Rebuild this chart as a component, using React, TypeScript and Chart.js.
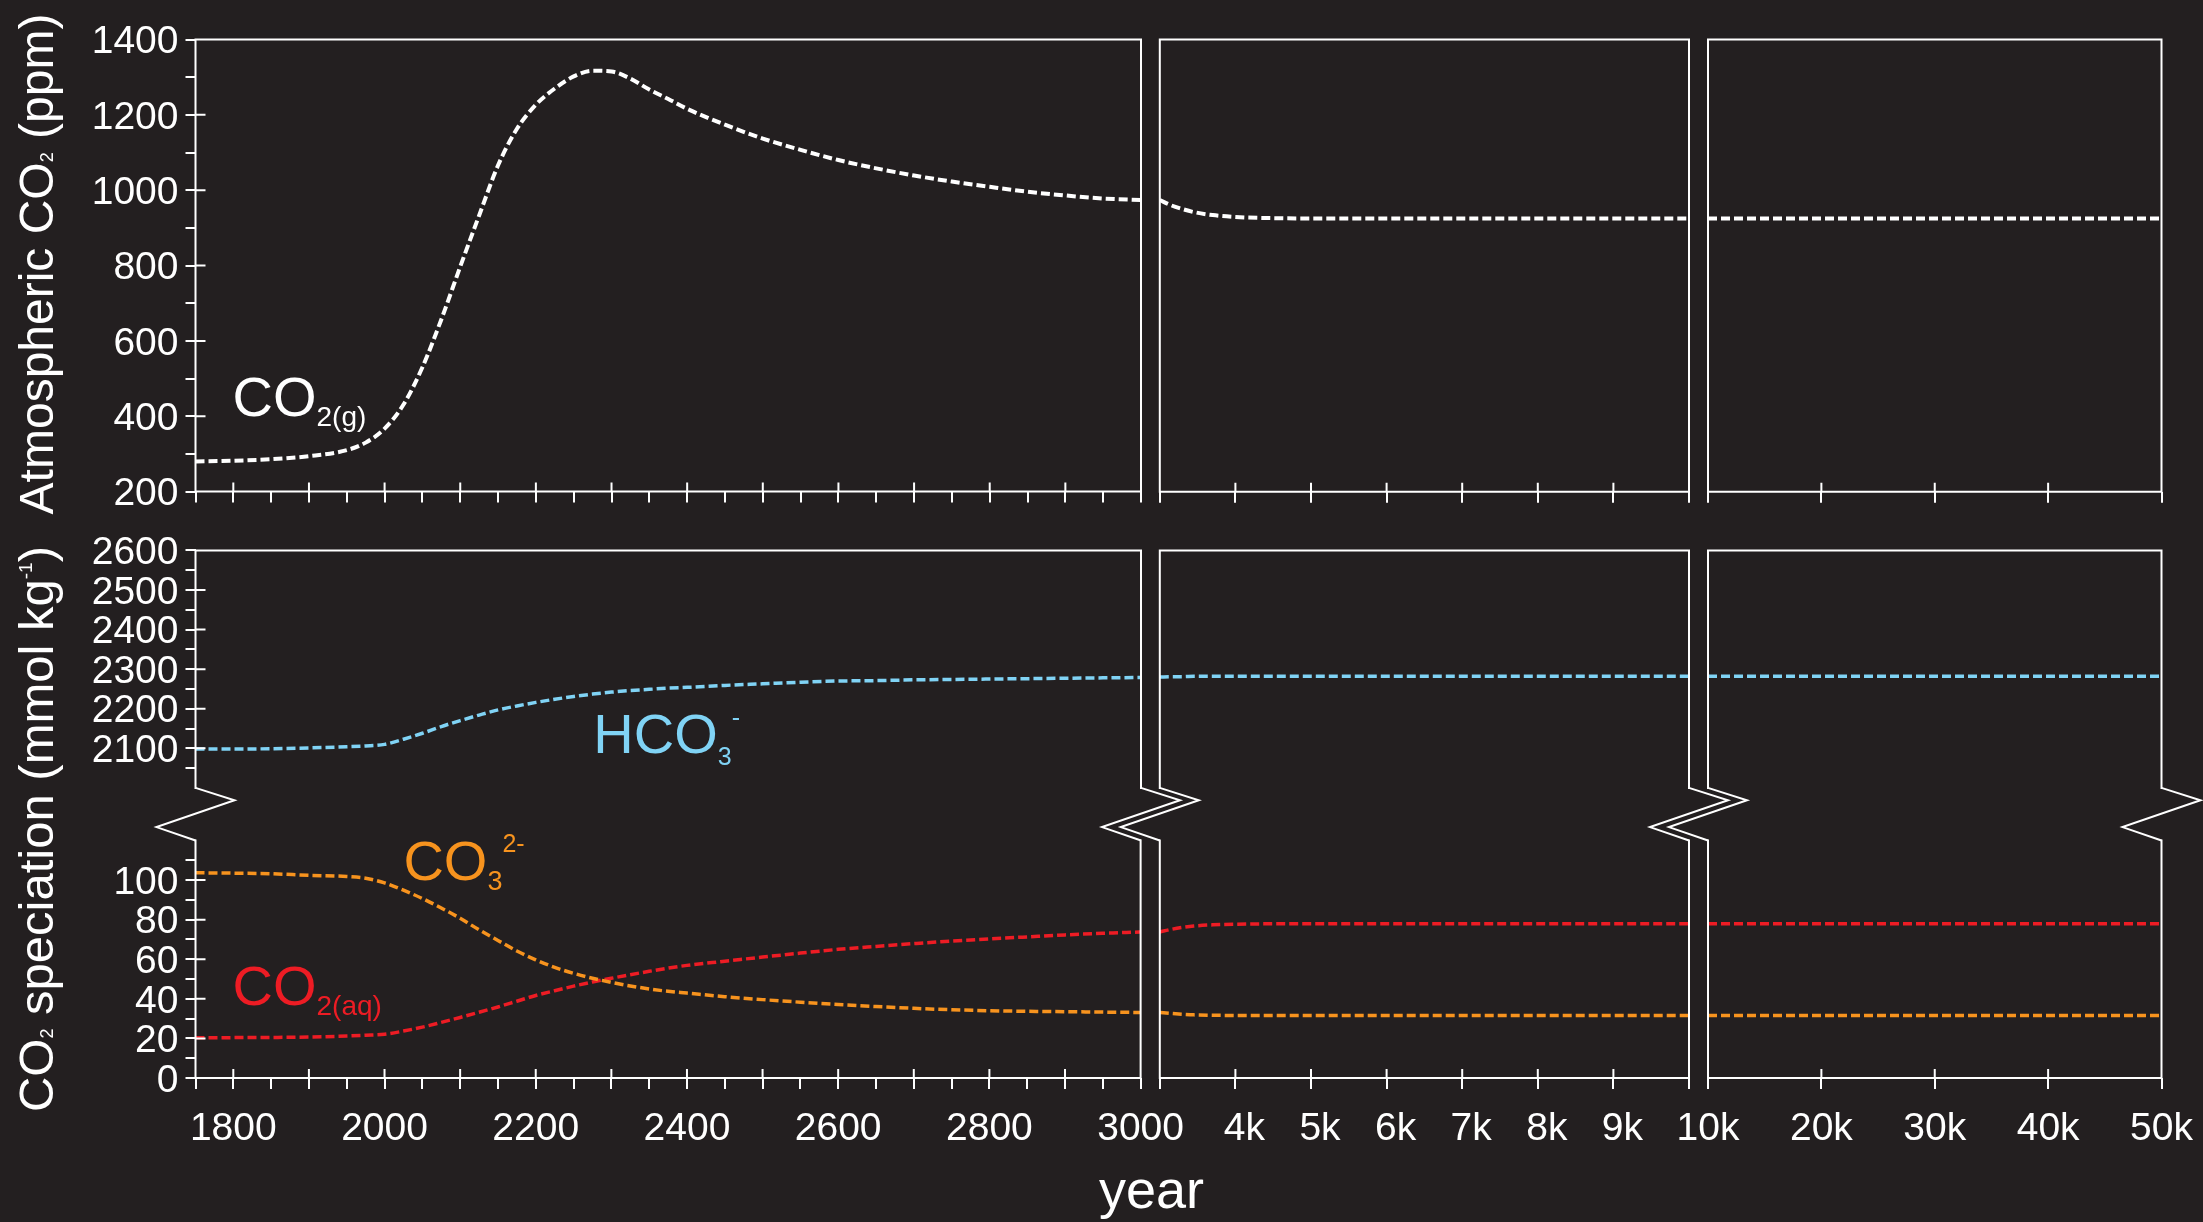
import React, { useEffect, useRef } from "react";
import { Chart, registerables } from "chart.js";

Chart.register(...registerables);

const W = 2203;
const H = 1222;
const BG = "#231f20";
const FONT = "'Liberation Sans', Arial, Helvetica, sans-serif";
const WHITE = "#ffffff";
const BLUE = "#80d3f5";
const ORANGE = "#f7931e";
const RED = "#ed1c24";

Chart.defaults.font.family = FONT;

// ---------- data: column A (1750 - 3000) ----------
const YEARS_A = [1750, 1800, 1850, 1900, 1950, 1975, 2000, 2025, 2050, 2075, 2100, 2125, 2150, 2175, 2200, 2225, 2250, 2275, 2300, 2325, 2350, 2375, 2400, 2450, 2500, 2550, 2600, 2650, 2700, 2750, 2800, 2850, 2900, 2950, 3000];
const CO2_GAS_A = [280, 282, 286, 294, 310, 330, 367, 431, 530, 657, 797, 933, 1066, 1163, 1227, 1270, 1302, 1317, 1315, 1296, 1267, 1242, 1216, 1174, 1137, 1107, 1080, 1058, 1039, 1023, 1009, 996, 986, 978, 974];
const HCO3_A = [2098, 2098, 2099, 2101, 2104, 2106, 2110, 2123, 2138, 2155, 2170, 2184, 2197, 2207, 2216, 2224, 2231, 2237, 2242, 2246, 2249, 2252, 2254, 2259, 2263, 2267, 2270, 2271, 2273, 2274, 2275, 2276, 2277, 2278, 2279];
const CO3_A = [103.7, 103.5, 103.2, 102.4, 101.8, 100.9, 98.6, 94.9, 90.7, 85.9, 80.7, 74.9, 69.5, 64.2, 59.7, 55.9, 52.9, 50.4, 48.3, 46.5, 45.0, 43.8, 42.9, 41.1, 39.6, 38.3, 37.1, 36.1, 35.2, 34.5, 34.0, 33.7, 33.5, 33.3, 33.1];
const CO2_AQ_A = [20.3, 20.4, 20.5, 20.7, 21.2, 21.6, 22.1, 23.7, 25.7, 28.1, 30.6, 33.2, 35.9, 38.8, 41.7, 44.1, 46.4, 48.5, 50.4, 52.2, 53.9, 55.5, 56.9, 59.0, 61.1, 63.1, 65.0, 66.5, 67.9, 69.2, 70.3, 71.3, 72.3, 73.1, 73.8];

// ---------- data: column B (3000 - 10000) ----------
const YEARS_B = [3000, 3150, 3300, 3450, 3700, 4000, 4500, 5000, 6000, 7000, 8000, 9000, 10000];
const CO2_GAS_B = [974, 960, 950, 942, 934, 929, 926, 925, 925, 925, 925, 925, 925];
const HCO3_B = [2280, 2281, 2281, 2282, 2282, 2282, 2282, 2282, 2282, 2282, 2282, 2282, 2282];
const CO3_B = [33.1, 32.6, 32.2, 31.9, 31.7, 31.6, 31.6, 31.6, 31.6, 31.6, 31.6, 31.6, 31.6];
const CO2_AQ_B = [73.8, 75.1, 76.1, 76.8, 77.4, 77.7, 77.9, 77.9, 77.9, 77.9, 77.9, 77.9, 77.9];

// ---------- data: column C (10000 - 50000) ----------
const YEARS_C = [10000, 20000, 30000, 40000, 50000];
const CO2_GAS_C = [925, 925, 925, 925, 925];
const HCO3_C = [2282, 2282, 2282, 2282, 2282];
const CO3_C = [31.6, 31.6, 31.6, 31.6, 31.6];
const CO2_AQ_C = [77.9, 77.9, 77.9, 77.9, 77.9];

// ---------- tick labels ----------
const X_LABEL_VALUES_A = [1800, 2000, 2200, 2400, 2600, 2800, 3000];
const X_LABELS_A = ["1800", "2000", "2200", "2400", "2600", "2800", "3000"];
const X_LABEL_VALUES_B = [4000, 5000, 6000, 7000, 8000, 9000];
const X_LABELS_B = ["4k", "5k", "6k", "7k", "8k", "9k"];
const X_LABEL_VALUES_C = [10000, 20000, 30000, 40000, 50000];
const X_LABELS_C = ["10k", "20k", "30k", "40k", "50k"];
const Y_LABEL_VALUES_TOP = [200, 400, 600, 800, 1000, 1200, 1400];
const Y_LABELS_TOP = ["200", "400", "600", "800", "1000", "1200", "1400"];
const Y_LABEL_VALUES_UP = [2100, 2200, 2300, 2400, 2500, 2600];
const Y_LABELS_UP = ["2100", "2200", "2300", "2400", "2500", "2600"];
const Y_LABEL_VALUES_LOW = [0, 20, 40, 60, 80, 100];
const Y_LABELS_LOW = ["0", "20", "40", "60", "80", "100"];

function steps(a: number, b: number, s: number): number[] {
  const out: number[] = [];
  for (let v = a; v <= b + 1e-9; v += s) out.push(v);
  return out;
}

// tick mark positions (outward) and major (crossing) ticks
const X_TICKS_A = steps(1750, 3000, 50);
const X_TICKS_B = steps(3000, 10000, 1000);
const X_TICKS_C = steps(10000, 50000, 10000);
const X_MAJOR_A = steps(1800, 2900, 100);
const X_MAJOR_B = steps(4000, 9000, 1000);
const X_MAJOR_C = [20000, 30000, 40000];
const Y_TICKS_TOP = steps(200, 1400, 100);
const Y_TICKS_UP = steps(2050, 2600, 50);
const Y_TICKS_LOW = steps(0, 110, 10);
const Y_MAJOR_TOP = [400, 600, 800, 1000, 1200];
const Y_MAJOR_UP = [2100, 2200, 2300, 2400, 2500];
const Y_MAJOR_LOW = [20, 40, 60, 80, 100];

const TICK_FONT = 39;

type Series = { x: number[]; y: number[]; color: string; width: number };

const COLS = [
  { l: 195.5, r: 1141, xMin: 1750, xMax: 3000, xTicks: X_TICKS_A, xLV: X_LABEL_VALUES_A, xL: X_LABELS_A, xMajor: X_MAJOR_A, xOff: 0, showY: true },
  { l: 1159.8, r: 1689, xMin: 3000, xMax: 10000, xTicks: X_TICKS_B, xLV: X_LABEL_VALUES_B, xL: X_LABELS_B, xMajor: X_MAJOR_B, xOff: 9, showY: false },
  { l: 1708, r: 2161.5, xMin: 10000, xMax: 50000, xTicks: X_TICKS_C, xLV: X_LABEL_VALUES_C, xL: X_LABELS_C, xMajor: X_MAJOR_C, xOff: 0, showY: false },
];

const GAS: Series[][] = [
  [{ x: YEARS_A, y: CO2_GAS_A, color: WHITE, width: 4 }],
  [{ x: YEARS_B, y: CO2_GAS_B, color: WHITE, width: 4 }],
  [{ x: YEARS_C, y: CO2_GAS_C, color: WHITE, width: 4 }],
];
const UPPER: Series[][] = [
  [{ x: YEARS_A, y: HCO3_A, color: BLUE, width: 3.5 }],
  [{ x: YEARS_B, y: HCO3_B, color: BLUE, width: 3.5 }],
  [{ x: YEARS_C, y: HCO3_C, color: BLUE, width: 3.5 }],
];
const LOWER: Series[][] = [
  [{ x: YEARS_A, y: CO3_A, color: ORANGE, width: 3.5 }, { x: YEARS_A, y: CO2_AQ_A, color: RED, width: 3.5 }],
  [{ x: YEARS_B, y: CO3_B, color: ORANGE, width: 3.5 }, { x: YEARS_B, y: CO2_AQ_B, color: RED, width: 3.5 }],
  [{ x: YEARS_C, y: CO3_C, color: ORANGE, width: 3.5 }, { x: YEARS_C, y: CO2_AQ_C, color: RED, width: 3.5 }],
];

const ROWS = [
  { t: 39.5, b: 491.7, yMin: 200, yMax: 1400, yTicks: Y_TICKS_TOP, yLV: Y_LABEL_VALUES_TOP, yL: Y_LABELS_TOP, yMajor: Y_MAJOR_TOP, xMode: "ticks", frameTop: true, frameBottom: true, breakGap: 0, series: GAS },
  { t: 550.4, b: 787.9, yMin: 2000, yMax: 2600, yTicks: Y_TICKS_UP, yLV: Y_LABEL_VALUES_UP, yL: Y_LABELS_UP, yMajor: Y_MAJOR_UP, xMode: "none", frameTop: true, frameBottom: false, breakGap: 52.6, series: UPPER },
  { t: 840.5, b: 1078, yMin: 0, yMax: 120, yTicks: Y_TICKS_LOW, yLV: Y_LABEL_VALUES_LOW, yL: Y_LABELS_LOW, yMajor: Y_MAJOR_LOW, xMode: "labels", frameTop: false, frameBottom: true, breakGap: 0, series: LOWER },
];

const PANELS = ROWS.flatMap((row, ri) =>
  COLS.map((col, ci) => {
    const xH = row.xMode === "labels" ? 100 : row.xMode === "ticks" ? 12 : 0;
    const yW = col.showY ? 120 : 0;
    const ML = col.showY ? col.l : 60;
    const MR = 60;
    const MT = 36;
    const MB = row.xMode === "labels" ? 110 : row.breakGap ? 60 : 30;
    const cx = Math.floor(col.l - ML);
    const cy = Math.floor(row.t - MT);
    const cr = Math.ceil(col.r + MR);
    const cb = Math.ceil(row.b + MB);
    return {
      key: `p${ri}${ci}`,
      row,
      col,
      series: row.series[ci],
      cx,
      cy,
      cw: cr - cx,
      ch: cb - cy,
      xH,
      yW,
      pad: { left: col.l - cx - yW, top: row.t - cy, right: cr - col.r, bottom: cb - row.b - xH },
    };
  })
);

const framePlugin = {
  id: "frame",
  afterDatasetsDraw(chart: any, _args: any, opts: any) {
    const { ctx, chartArea } = chart;
    const { left, right, top, bottom } = chartArea;
    const xs = chart.scales.x;
    const ys = chart.scales.y;
    ctx.save();
    ctx.strokeStyle = WHITE;
    ctx.lineWidth = 2;
    ctx.lineCap = "square";
    ctx.lineJoin = "miter";
    ctx.beginPath();
    if (opts.top) {
      ctx.moveTo(left, top);
      ctx.lineTo(right, top);
    }
    if (opts.bottom) {
      ctx.moveTo(left, bottom);
      ctx.lineTo(right, bottom);
    }
    ctx.moveTo(left, top);
    ctx.lineTo(left, bottom);
    ctx.moveTo(right, top);
    ctx.lineTo(right, bottom);
    ctx.stroke();
    ctx.lineCap = "butt";
    if (opts.breakGap) {
      const g = opts.breakGap;
      const a = 39;
      ctx.beginPath();
      for (const x of [left, right]) {
        ctx.moveTo(x, bottom);
        ctx.lineTo(x + a, bottom + g * 0.236);
        ctx.lineTo(x - a, bottom + g * 0.745);
        ctx.lineTo(x, bottom + g);
      }
      ctx.stroke();
    }
    ctx.beginPath();
    for (const v of opts.xMajor || []) {
      const px = xs.getPixelForValue(v);
      ctx.moveTo(px, bottom);
      ctx.lineTo(px, bottom - 9);
    }
    for (const v of opts.yMajor || []) {
      const py = ys.getPixelForValue(v);
      ctx.moveTo(left, py);
      ctx.lineTo(left + 10, py);
    }
    ctx.stroke();
    ctx.restore();
  },
};

function labeler(values: number[], labels: string[]) {
  return (v: any) => {
    const i = values.indexOf(Number(v));
    return i >= 0 ? labels[i] : "";
  };
}

function makeConfig(p: (typeof PANELS)[number]): any {
  const { row, col } = p;
  return {
    type: "line",
    data: {
      datasets: p.series.map((s) => ({
        data: s.x.map((x, i) => ({ x, y: s.y[i] })),
        borderColor: s.color,
        borderWidth: s.width,
        borderDash: [9, 4],
        pointRadius: 0,
        fill: false,
        cubicInterpolationMode: "monotone",
      })),
    },
    options: {
      responsive: false,
      maintainAspectRatio: false,
      animation: false,
      events: [],
      layout: { padding: p.pad },
      plugins: {
        legend: { display: false },
        tooltip: { enabled: false },
        frame: {
          top: row.frameTop,
          bottom: row.frameBottom,
          breakGap: row.breakGap,
          xMajor: row.xMode === "none" ? [] : col.xMajor,
          yMajor: col.showY ? row.yMajor : [],
        },
      },
      scales: {
        x: {
          type: "linear",
          position: "bottom",
          min: col.xMin,
          max: col.xMax,
          display: row.xMode !== "none",
          afterBuildTicks: (axis: any) => {
            axis.ticks = col.xTicks.map((v) => ({ value: v }));
          },
          afterFit: (axis: any) => {
            axis.height = p.xH;
          },
          grid: { drawOnChartArea: false, drawTicks: true, tickLength: 11, color: WHITE, lineWidth: 2 },
          border: { display: false },
          ticks: {
            display: row.xMode === "labels",
            autoSkip: false,
            maxRotation: 0,
            minRotation: 0,
            color: WHITE,
            font: { family: FONT, size: TICK_FONT },
            padding: 17,
            labelOffset: col.xOff,
            callback: labeler(col.xLV, col.xL),
          },
        },
        y: {
          type: "linear",
          position: "left",
          min: row.yMin,
          max: row.yMax,
          display: col.showY,
          afterBuildTicks: (axis: any) => {
            axis.ticks = row.yTicks.map((v) => ({ value: v }));
          },
          afterFit: (axis: any) => {
            axis.width = p.yW;
          },
          grid: { drawOnChartArea: false, drawTicks: true, tickLength: 10, color: WHITE, lineWidth: 2 },
          border: { display: false },
          ticks: {
            autoSkip: false,
            color: WHITE,
            font: { family: FONT, size: TICK_FONT },
            padding: 7,
            labelOffset: 3,
            callback: labeler(row.yLV, row.yL),
          },
        },
      },
    },
    plugins: [framePlugin],
  };
}

type Part = { text: string; size?: number; dy?: number };

function Formula({ x, baseline, size, color, parts }: { x: number; baseline: number; size: number; color: string; parts: Part[] }) {
  return (
    <div
      style={{
        position: "absolute",
        left: x,
        top: baseline - 0.3465 * size,
        lineHeight: 0,
        fontSize: size,
        color,
        fontFamily: FONT,
        whiteSpace: "nowrap",
      }}
    >
      {parts.map((p, i) => (
        <span key={i} style={{ fontSize: p.size ?? size, position: "relative", top: p.dy ?? 0 }}>
          {p.text}
        </span>
      ))}
    </div>
  );
}

function RotatedTitle({ baselineX, centerY, size, parts }: { baselineX: number; centerY: number; size: number; parts: Part[] }) {
  const L = 900;
  const cx = baselineX - 0.3465 * size;
  return (
    <div
      style={{
        position: "absolute",
        left: cx - L / 2,
        top: centerY,
        width: L,
        height: 0,
        lineHeight: 0,
        fontSize: size,
        textAlign: "center",
        color: WHITE,
        fontFamily: FONT,
        whiteSpace: "nowrap",
        transform: "rotate(-90deg)",
        transformOrigin: "50% 0",
      }}
    >
      {parts.map((p, i) => (
        <span key={i} style={{ fontSize: p.size ?? size, position: "relative", top: p.dy ?? 0 }}>
          {p.text}
        </span>
      ))}
    </div>
  );
}

export default function App() {
  const refs = useRef<(HTMLCanvasElement | null)[]>([]);

  useEffect(() => {
    document.body.style.margin = "0";
    document.body.style.background = BG;
    const charts = PANELS.map((p, i) => new Chart(refs.current[i] as HTMLCanvasElement, makeConfig(p)));
    return () => {
      charts.forEach((c) => c.destroy());
    };
  }, []);

  return (
    <div style={{ position: "fixed", left: 0, top: 0, width: W, height: H, background: BG, overflow: "hidden", fontFamily: FONT }}>
      {PANELS.map((p, i) => (
        <canvas
          key={p.key}
          ref={(el) => {
            refs.current[i] = el;
          }}
          width={p.cw}
          height={p.ch}
          style={{ position: "absolute", left: p.cx, top: p.cy }}
        />
      ))}
      <RotatedTitle
        baselineX={53.3}
        centerY={264}
        size={48}
        parts={[{ text: "Atmospheric CO" }, { text: "2", size: 18 }, { text: " (ppm)" }]}
      />
      <RotatedTitle
        baselineX={53.3}
        centerY={828.5}
        size={49}
        parts={[{ text: "CO" }, { text: "2", size: 18 }, { text: " speciation (mmol kg" }, { text: "-1", size: 19, dy: -21 }, { text: ")" }]}
      />
      <Formula x={232.5} baseline={416.7} size={56} color={WHITE} parts={[{ text: "CO" }, { text: "2(g)", size: 28, dy: 10 }]} />
      <Formula x={593.3} baseline={753} size={56} color={BLUE} parts={[{ text: "HCO" }, { text: "3", size: 25, dy: 12 }, { text: "-", size: 25, dy: -27 }]} />
      <Formula x={403.4} baseline={880.7} size={56} color={ORANGE} parts={[{ text: "CO" }, { text: "3", size: 27, dy: 10 }, { text: "2-", size: 25, dy: -28 }]} />
      <Formula x={232.5} baseline={1005.7} size={56} color={RED} parts={[{ text: "CO" }, { text: "2(aq)", size: 28, dy: 10 }]} />
      <Formula x={1099} baseline={1208} size={54} color={WHITE} parts={[{ text: "year" }]} />
    </div>
  );
}
